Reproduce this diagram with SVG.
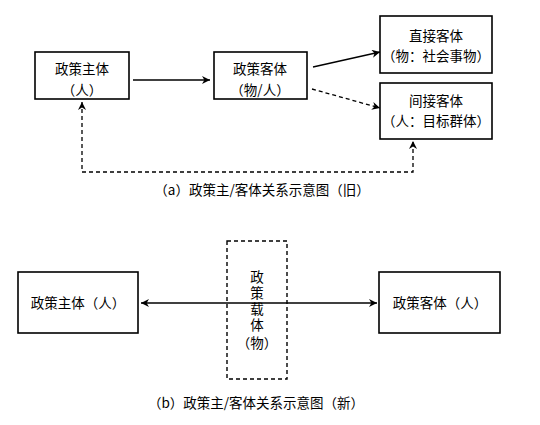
<svg xmlns="http://www.w3.org/2000/svg" width="540" height="425" viewBox="0 0 540 425">
<defs>
<marker id="ah" viewBox="0 0 10 10" refX="10" refY="5" markerWidth="10" markerHeight="8" markerUnits="userSpaceOnUse" orient="auto-start-reverse">
<path d="M0,0 L10,5 L0,10 L3,5 Z" fill="#000"/>
</marker>
<style>
rect.n{fill:#fff;stroke:#000;stroke-width:1.6}
rect.d{fill:none;stroke:#000;stroke-width:1.4;stroke-dasharray:4,3}
text{font-family:"Noto Sans CJK SC","Noto Sans CJK JP",sans-serif;font-size:13.5px;fill:#000;text-anchor:middle}
text.v{writing-mode:vertical-rl;text-anchor:start;letter-spacing:2.5px}
.s{stroke:#000;stroke-width:1.3;fill:none}
.ds{stroke:#000;stroke-width:1.3;fill:none;stroke-dasharray:4,3}
</style>
</defs>
<rect width="540" height="425" fill="#fff"/>
<g id="connectors">
<line class="s" x1="133" y1="80" x2="210" y2="80" marker-end="url(#ah)"/>
<line class="s" x1="313" y1="67" x2="380" y2="52" marker-end="url(#ah)"/>
<line class="ds" x1="312" y1="89" x2="380" y2="108" marker-end="url(#ah)"/>
<path class="ds" d="M82,102 V172 H413 V141" marker-start="url(#ah)" marker-end="url(#ah)"/>
<line class="s" x1="141" y1="303" x2="377" y2="303" marker-start="url(#ah)" marker-end="url(#ah)"/>
</g>
<g id="n1"><rect class="n" x="35" y="52" width="94" height="47"/><text x="82" y="74">政策主体</text><text x="82" y="95">（人）</text></g>
<g id="n2"><rect class="n" x="214" y="52" width="93" height="47"/><text x="260" y="74">政策客体</text><text x="260" y="95">（物/人）</text></g>
<g id="n3"><rect class="n" x="380" y="16" width="112" height="57"/><text x="436" y="40.5">直接客体</text><text x="436" y="60.5">（物：社会事物）</text></g>
<g id="n4"><rect class="n" x="380" y="83" width="112" height="56"/><text x="436" y="106">间接客体</text><text x="436" y="126">（人：目标群体）</text></g>
<text x="262" y="195">（a）政策主/客体关系示意图（旧）</text>
<g id="n5"><rect class="n" x="18" y="272" width="120" height="61"/><text x="78" y="308">政策主体（人）</text></g>
<g id="n6"><rect class="n" x="379" y="272" width="121" height="61"/><text x="440" y="308">政策客体（人）</text></g>
<g id="n7"><rect class="d" x="227" y="241" width="60" height="138"/>
<text class="v" x="257" y="270">政策载体</text>
<text x="257" y="348">（物）</text></g>
<text x="256" y="408">（b）政策主/客体关系示意图（新）</text>
</svg>
